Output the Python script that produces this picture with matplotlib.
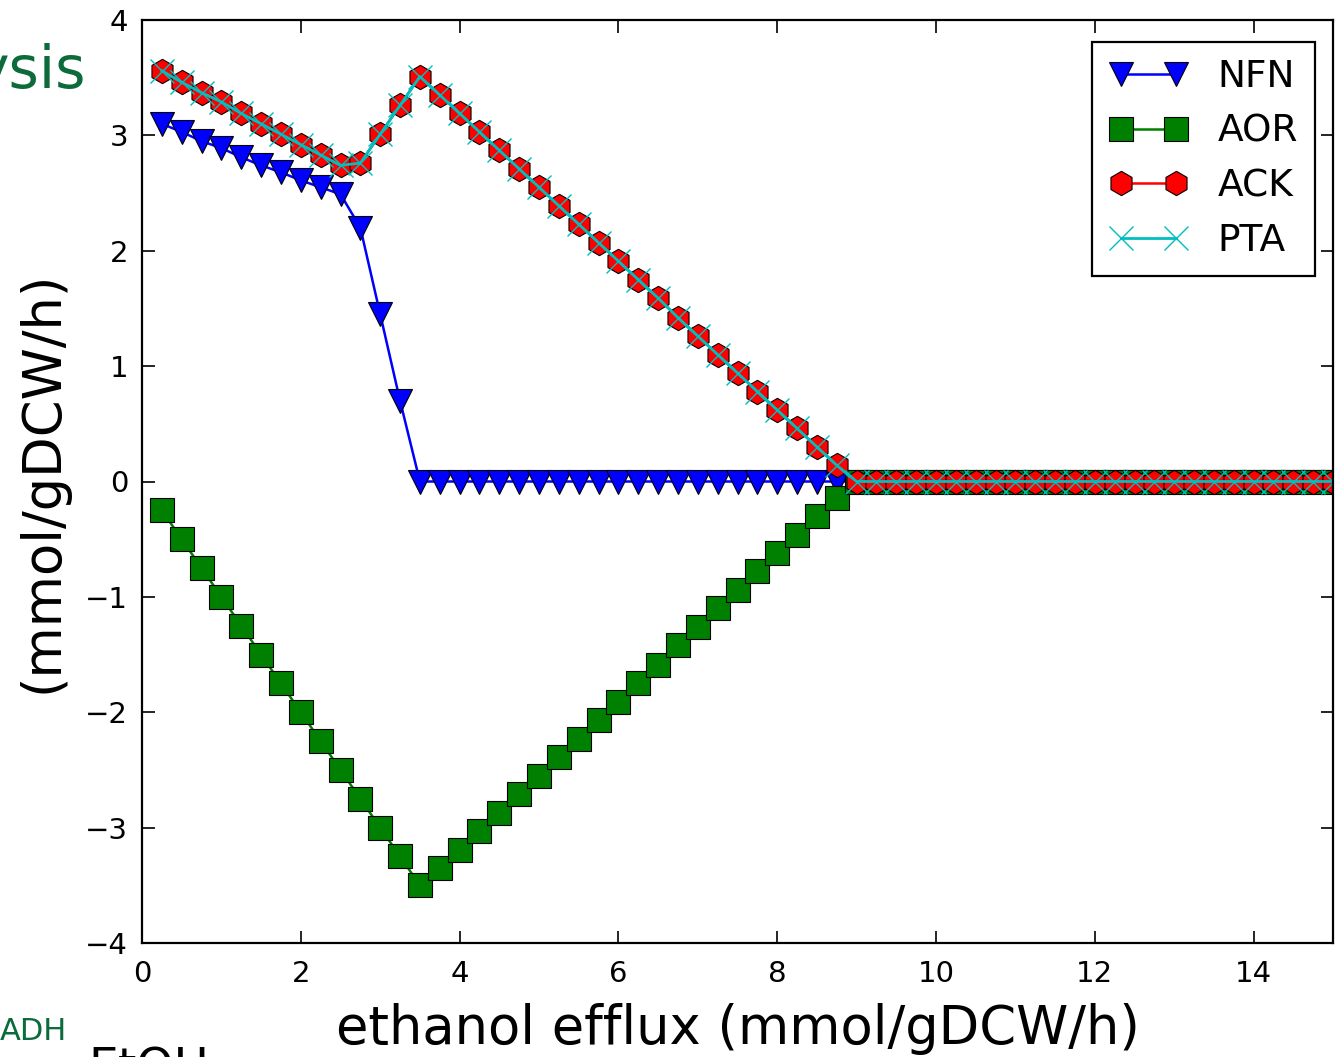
import numpy as np
import matplotlib
matplotlib.use('Agg')
import matplotlib.pyplot as plt

# === data ===
efflux = [0.25, 0.5, 0.75, 1.0, 1.25, 1.5, 1.75, 2.0, 2.25, 2.5,
          2.75, 3.0, 3.25, 3.5, 3.75, 4.0, 4.25, 4.5, 4.75, 5.0,
          5.25, 5.5, 5.75, 6.0, 6.25, 6.5, 6.75, 7.0, 7.25, 7.5,
          7.75, 8.0, 8.25, 8.5, 8.75, 9.0, 9.25, 9.5, 9.75, 10.0,
          10.25, 10.5, 10.75, 11.0, 11.25, 11.5, 11.75, 12.0, 12.25, 12.5,
          12.75, 13.0, 13.25, 13.5, 13.75, 14.0, 14.25, 14.5, 14.75, 15.0]

nfn = [3.10, 3.03, 2.95, 2.89, 2.81, 2.74, 2.68, 2.61, 2.55, 2.49,
       2.20, 1.45, 0.70] + [0.0] * 47

aor = [-0.25, -0.50, -0.75, -1.00, -1.25, -1.50, -1.75, -2.00, -2.25, -2.50,
       -2.75, -3.00, -3.25, -3.50,
       -3.35, -3.19, -3.03, -2.87, -2.71, -2.55, -2.39, -2.23, -2.07, -1.91,
       -1.75, -1.59, -1.42, -1.26, -1.10, -0.94, -0.78, -0.62, -0.46, -0.30,
       -0.14] + [0.0] * 25

ack = [3.56, 3.46, 3.37, 3.29, 3.19, 3.10, 3.01, 2.92, 2.83, 2.74,
       2.76, 3.01, 3.26, 3.51,
       3.35, 3.19, 3.03, 2.87, 2.71, 2.55, 2.39, 2.23, 2.07, 1.91,
       1.75, 1.59, 1.42, 1.26, 1.10, 0.94, 0.78, 0.62, 0.46, 0.30,
       0.14] + [0.0] * 25

pta = list(ack)   # PTA lies exactly on ACK

names = ['NFN', 'AOR', 'ACK', 'PTA']
xticks = [0, 2, 4, 6, 8, 10, 12, 14]
yticks = [-4, -3, -2, -1, 0, 1, 2, 3, 4]

# === figure ===
fig = plt.figure(figsize=(13.36, 10.57), dpi=100)
fig.patch.set_facecolor('white')
ax = fig.add_axes([142/1336, 1 - 943/1057, 1191/1336, 923/1057])

ms = 17.5
ax.plot(efflux, nfn, color='b', marker='v', ms=ms, mec='k', mew=0.8, lw=1.8, label=names[0])
ax.plot(efflux, aor, color='g', marker='s', ms=ms, mec='k', mew=0.8, lw=1.8, label=names[1])
ax.plot(efflux, ack, color='r', marker='h', ms=ms, mec='k', mew=0.8, lw=1.8, label=names[2])
ax.plot(efflux, pta, color='c', marker='x', ms=ms, mec='c', mew=1.0, lw=2.0, label=names[3])

ax.set_xlim(0, 15)
ax.set_ylim(-4, 4)
ax.set_xticks(xticks)
ax.set_yticks(yticks)
ax.tick_params(direction='in', top=True, right=True, length=9, width=1.2, labelsize=21)
ax.tick_params(axis='x', pad=12)
ax.tick_params(axis='y', pad=10)
for s in ax.spines.values():
    s.set_linewidth(1.6)

ax.set_xlabel('ethanol efflux (mmol/gDCW/h)', fontsize=38)
ax.xaxis.set_label_coords(0.5, -0.065)
ax.set_ylabel('(mmol/gDCW/h)', fontsize=38)
ax.yaxis.set_label_coords(-0.062, 0.5)

leg = ax.legend(loc='upper right', bbox_to_anchor=((1315-142)/1191, (943-42)/923),
                borderaxespad=0, numpoints=2, fontsize=27, fancybox=False,
                handlelength=2.07, handletextpad=0.82, labelspacing=0.5, borderpad=0.45)
leg.get_frame().set_edgecolor('k')
leg.get_frame().set_linewidth(1.6)
leg.get_frame().set_alpha(1)

# bits of the slide around the chart
green = '#0b6b3a'
fig.text(86/1336, 1 - 71/1057, 'ysis', color=green, fontsize=42, ha='right', va='center')
fig.text(0, 1 - 1032/1057, 'ADH', color=green, fontsize=22, ha='left', va='center')
fig.text(88/1336, 1 - 1047/1057, 'EtOH', color='k', fontsize=34, ha='left', va='top')

fig.savefig('out.png', dpi=100, facecolor='white')
